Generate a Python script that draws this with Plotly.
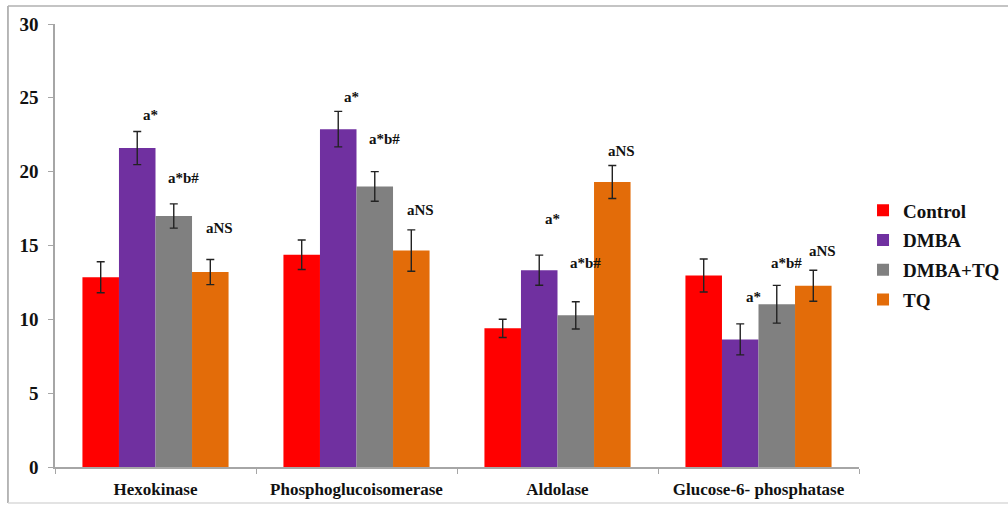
import plotly.graph_objects as go

# Enzyme activities per group (mean ± SE)
enzymes = ["Hexokinase", "Phosphoglucoisomerase", "Aldolase", "Glucose-6- phosphatase"]
groups = ["Control", "DMBA", "DMBA+TQ", "TQ"]
colors = ["#FF0000", "#7030A0", "#808080", "#E36C09"]

control = [12.85, 14.37, 9.39, 12.97]
dmba = [21.6, 22.88, 13.33, 8.64]
dmba_tq = [17.0, 19.0, 10.27, 11.02]
tq = [13.2, 14.66, 19.3, 12.27]

control_err = [1.05, 1.0, 0.62, 1.12]
dmba_err = [1.12, 1.2, 1.02, 1.05]
dmba_tq_err = [0.82, 1.0, 0.92, 1.28]
tq_err = [0.85, 1.4, 1.12, 1.05]

values = [control, dmba, dmba_tq, tq]
errors = [control_err, dmba_err, dmba_tq_err, tq_err]

# Significance marks: enzyme index, group index, text, label height
sig_enzyme = [0, 0, 0, 1, 1, 1, 2, 2, 2, 3, 3, 3]
sig_group = [1, 2, 3, 1, 2, 3, 1, 2, 3, 1, 2, 3]
sig_text = ["a*", "a*b#", "aNS", "a*", "a*b#", "aNS", "a*", "a*b#", "aNS", "a*", "a*b#", "aNS"]
sig_height = [23.85, 19.6, 16.2, 25.05, 22.2, 17.4, 16.8, 13.8, 21.4, 11.5, 13.8, 14.6]

FONT = "Liberation Serif"

fig = go.Figure()
for name, vals, errs, col in zip(groups, values, errors, colors):
    fig.add_trace(go.Bar(
        name=name, x=enzymes, y=vals, legendgroup=name,
        marker=dict(color=col, line=dict(width=0)),
        error_y=dict(type="data", array=errs, visible=True,
                     color="#222222", thickness=1.4, width=4),
    ))

# place each significance label slightly right of its bar
offsets = {1: 13, 2: 10, 3: 9}
bar_px = 36.5
for ei, gi, txt, h in zip(sig_enzyme, sig_group, sig_text, sig_height):
    fig.add_annotation(
        x=enzymes[ei], y=h, xref="x", yref="y", text="<b>%s</b>" % txt,
        showarrow=False, xshift=(gi - 1.5) * bar_px + offsets[gi],
        font=dict(family=FONT, size=15, color="#111111"),
    )

# outer frame (left, top, bottom edges)
frame = dict(xref="paper", yref="paper", type="line")
fig.add_shape(x0=-0.0585, x1=-0.0585, y0=-0.0813, y1=1.0406,
              line=dict(color="#A0A0A0", width=1.5), **frame)
fig.add_shape(x0=-0.0585, x1=1.2, y0=1.0406, y1=1.0406,
              line=dict(color="#B0B0B0", width=1.5), **frame)
fig.add_shape(x0=-0.0585, x1=1.2, y0=-0.0813, y1=-0.0813,
              line=dict(color="#DADADA", width=1.5), **frame)

fig.update_layout(
    width=1008, height=505,
    margin=dict(l=55, r=149, t=24, b=38, autoexpand=False),
    paper_bgcolor="white", plot_bgcolor="white",
    barmode="group", bargap=0.273, bargroupgap=0,
    font=dict(family=FONT, color="#111111"),
    legend=dict(x=1.005, y=0.622, xanchor="left", yanchor="top",
                font=dict(family=FONT, size=19, color="#111111", weight="bold"),
                itemwidth=30, tracegroupgap=2, traceorder="grouped"),
    showlegend=True,
)
fig.update_xaxes(
    showline=True, linecolor="#A6A6A6", linewidth=1.5,
    ticks="outside", tickson="boundaries", ticklen=5, tickcolor="#A6A6A6",
    tickfont=dict(family=FONT, size=17, color="#111111", weight="bold"),
    showgrid=False, ticklabelstandoff=6,
)
fig.update_yaxes(
    range=[0, 30], dtick=5, showline=True, linecolor="#A6A6A6", linewidth=1.5,
    ticks="outside", ticklen=5, tickcolor="#A6A6A6",
    tickfont=dict(family=FONT, size=19, color="#111111", weight="bold"),
    showgrid=False, zeroline=False, ticklabelstandoff=6,
)

fig.write_html("out.html")
